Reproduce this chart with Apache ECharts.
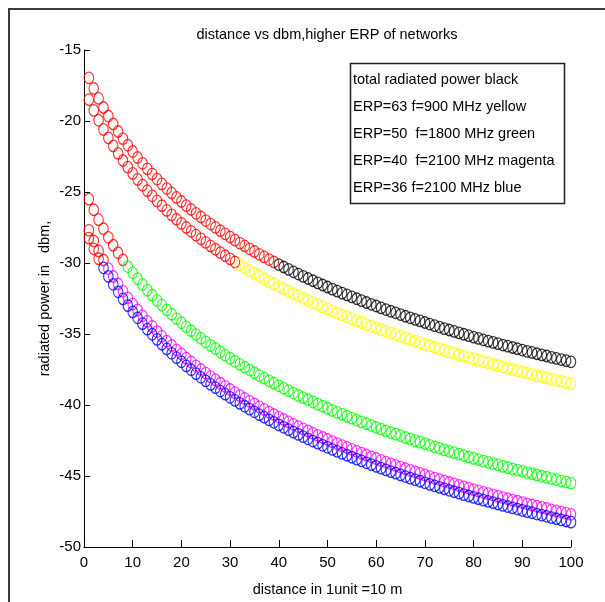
<!DOCTYPE html>
<html>
<head>
<meta charset="utf-8">
<script src="https://cdn.jsdelivr.net/npm/echarts@6/dist/echarts.min.js"></script>
<style>
  html, body { margin: 0; padding: 0; background: #fff; }
  #chart { width: 605px; height: 602px; }
</style>
</head>
<body>
<div id="chart"></div>
<script>
// distance in units of 10 m
const distance = [1,2,3,4,5,6,7,8,9,10,11,12,13,14,15,16,17,18,19,20,21,22,23,24,25,26,27,28,29,30,31,32,33,34,35,36,37,38,39,40,41,42,43,44,45,46,47,48,49,50,51,52,53,54,55,56,57,58,59,60,61,62,63,64,65,66,67,68,69,70,71,72,73,74,75,76,77,78,79,80,81,82,83,84,85,86,87,88,89,90,91,92,93,94,95,96,97,98,99,100];

// received power (dBm) per network, and their total
const totalPower = [-16.96,-17.71,-18.41,-19.05,-19.65,-20.21,-20.74,-21.24,-21.71,-22.15,-22.57,-22.98,-23.37,-23.73,-24.09,-24.43,-24.76,-25.07,-25.38,-25.67,-25.96,-26.23,-26.50,-26.76,-27.01,-27.26,-27.49,-27.73,-27.95,-28.17,-28.39,-28.60,-28.80,-29.00,-29.19,-29.39,-29.57,-29.76,-29.93,-30.11,-30.28,-30.45,-30.62,-30.78,-30.94,-31.09,-31.25,-31.40,-31.55,-31.69,-31.84,-31.98,-32.12,-32.25,-32.39,-32.52,-32.65,-32.78,-32.91,-33.03,-33.16,-33.28,-33.40,-33.51,-33.63,-33.75,-33.86,-33.97,-34.08,-34.19,-34.30,-34.41,-34.51,-34.62,-34.72,-34.82,-34.92,-35.02,-35.12,-35.22,-35.31,-35.41,-35.50,-35.59,-35.68,-35.78,-35.86,-35.95,-36.04,-36.13,-36.22,-36.30,-36.39,-36.47,-36.55,-36.64,-36.72,-36.80,-36.88,-36.96];
const erp63f900 = [-18.50,-19.25,-19.95,-20.59,-21.19,-21.75,-22.28,-22.78,-23.25,-23.69,-24.11,-24.52,-24.91,-25.27,-25.63,-25.97,-26.30,-26.61,-26.92,-27.21,-27.50,-27.77,-28.04,-28.30,-28.55,-28.80,-29.03,-29.27,-29.49,-29.71,-29.93,-30.14,-30.34,-30.54,-30.73,-30.93,-31.11,-31.30,-31.47,-31.65,-31.82,-31.99,-32.16,-32.32,-32.48,-32.63,-32.79,-32.94,-33.09,-33.23,-33.38,-33.52,-33.66,-33.79,-33.93,-34.06,-34.19,-34.32,-34.45,-34.57,-34.70,-34.82,-34.94,-35.05,-35.17,-35.29,-35.40,-35.51,-35.62,-35.73,-35.84,-35.95,-36.05,-36.16,-36.26,-36.36,-36.46,-36.56,-36.66,-36.76,-36.85,-36.95,-37.04,-37.13,-37.22,-37.32,-37.40,-37.50,-37.58,-37.67,-37.76,-37.84,-37.93,-38.01,-38.09,-38.18,-38.26,-38.34,-38.42,-38.50];
const erp50f1800 = [-25.50,-26.25,-26.95,-27.59,-28.19,-28.75,-29.28,-29.78,-30.25,-30.69,-31.11,-31.52,-31.91,-32.27,-32.63,-32.97,-33.30,-33.61,-33.92,-34.21,-34.50,-34.77,-35.04,-35.30,-35.55,-35.80,-36.03,-36.27,-36.49,-36.71,-36.93,-37.14,-37.34,-37.54,-37.73,-37.93,-38.11,-38.30,-38.47,-38.65,-38.82,-38.99,-39.16,-39.32,-39.48,-39.63,-39.79,-39.94,-40.09,-40.23,-40.38,-40.52,-40.66,-40.79,-40.93,-41.06,-41.19,-41.32,-41.45,-41.57,-41.70,-41.82,-41.94,-42.05,-42.17,-42.29,-42.40,-42.51,-42.62,-42.73,-42.84,-42.95,-43.05,-43.16,-43.26,-43.36,-43.46,-43.56,-43.66,-43.76,-43.85,-43.95,-44.04,-44.13,-44.22,-44.32,-44.40,-44.50,-44.58,-44.67,-44.76,-44.84,-44.93,-45.01,-45.09,-45.18,-45.26,-45.34,-45.42,-45.50];
const erp40f2100 = [-27.70,-28.45,-29.15,-29.79,-30.39,-30.95,-31.48,-31.98,-32.45,-32.89,-33.31,-33.72,-34.11,-34.47,-34.83,-35.17,-35.50,-35.81,-36.12,-36.41,-36.70,-36.97,-37.24,-37.50,-37.75,-38.00,-38.23,-38.47,-38.69,-38.91,-39.13,-39.34,-39.54,-39.74,-39.93,-40.13,-40.31,-40.50,-40.67,-40.85,-41.02,-41.19,-41.36,-41.52,-41.68,-41.83,-41.99,-42.14,-42.29,-42.43,-42.58,-42.72,-42.86,-42.99,-43.13,-43.26,-43.39,-43.52,-43.65,-43.77,-43.90,-44.02,-44.14,-44.25,-44.37,-44.49,-44.60,-44.71,-44.82,-44.93,-45.04,-45.15,-45.25,-45.36,-45.46,-45.56,-45.66,-45.76,-45.86,-45.96,-46.05,-46.15,-46.24,-46.33,-46.42,-46.52,-46.60,-46.70,-46.78,-46.87,-46.96,-47.04,-47.13,-47.21,-47.29,-47.38,-47.46,-47.54,-47.62,-47.70];
const erp36f2100 = [-28.25,-29.00,-29.70,-30.34,-30.94,-31.50,-32.03,-32.53,-33.00,-33.44,-33.86,-34.27,-34.66,-35.02,-35.38,-35.72,-36.05,-36.36,-36.67,-36.96,-37.25,-37.52,-37.79,-38.05,-38.30,-38.55,-38.78,-39.02,-39.24,-39.46,-39.68,-39.89,-40.09,-40.29,-40.48,-40.68,-40.86,-41.05,-41.22,-41.40,-41.57,-41.74,-41.91,-42.07,-42.23,-42.38,-42.54,-42.69,-42.84,-42.98,-43.13,-43.27,-43.41,-43.54,-43.68,-43.81,-43.94,-44.07,-44.20,-44.32,-44.45,-44.57,-44.69,-44.80,-44.92,-45.04,-45.15,-45.26,-45.37,-45.48,-45.59,-45.70,-45.80,-45.91,-46.01,-46.11,-46.21,-46.31,-46.41,-46.51,-46.60,-46.70,-46.79,-46.88,-46.97,-47.07,-47.15,-47.25,-47.33,-47.42,-47.51,-47.59,-47.68,-47.76,-47.84,-47.93,-48.01,-48.09,-48.17,-48.25];

const legendLines = [
  'total radiated power black',
  'ERP=63 f=900 MHz yellow',
  'ERP=50  f=1800 MHz green',
  'ERP=40  f=2100 MHz magenta',
  'ERP=36 f=2100 MHz blue'
];

// readings stronger than this are marked in red
const threshold = -30;

const FONT = '"Liberation Sans", Arial, Helvetica, sans-serif';
const FS = 14.5;

function curve(values, colour) {
  return {
    type: 'scatter',
    symbol: 'circle',
    symbolSize: [9.5, 11.5],
    silent: true,
    data: distance.map((d, i) => ({
      value: [d, values[i]],
      itemStyle: { borderColor: values[i] > threshold ? '#ff0000' : colour }
    })),
    itemStyle: { color: 'rgba(0,0,0,0)', borderWidth: 1.2 }
  };
}

const chart = echarts.init(document.getElementById('chart'), null, { renderer: 'canvas' });
chart.setOption({
  animation: false,
  backgroundColor: '#fff',
  textStyle: { fontFamily: FONT },
  title: {
    text: 'distance vs dbm,higher ERP of networks',
    left: 322,
    textAlign: 'center',
    top: 22,
    textStyle: { fontFamily: FONT, fontSize: FS, fontWeight: 'normal', color: '#000' }
  },
  grid: { left: 84, right: 34, top: 50, bottom: 54, containLabel: false },
  xAxis: {
    type: 'value',
    min: 0, max: 100, interval: 10,
    name: 'distance in 1unit =10 m',
    nameLocation: 'middle',
    nameGap: 35,
    nameMoveOverlap: false,
    nameTextStyle: { fontFamily: FONT, fontSize: FS, color: '#000' },
    axisLine: { show: true, onZero: false, lineStyle: { color: '#000', width: 1 } },
    axisTick: { show: true, inside: true, length: 7, lineStyle: { color: '#000' } },
    axisLabel: { fontFamily: FONT, fontSize: 15, color: '#000', margin: 8 },
    splitLine: { show: false }
  },
  yAxis: {
    type: 'value',
    min: -50, max: -15, interval: 5,
    name: 'radiated power in   dbm,',
    nameLocation: 'middle',
    nameRotate: 90,
    nameGap: 32,
    nameMoveOverlap: false,
    nameTextStyle: { fontFamily: FONT, fontSize: FS, color: '#000' },
    axisLine: { show: true, onZero: false, lineStyle: { color: '#000', width: 1 } },
    axisTick: { show: true, inside: true, length: 6, lineStyle: { color: '#000' } },
    axisLabel: { fontFamily: FONT, fontSize: 15, color: '#000', margin: 3 },
    splitLine: { show: false }
  },
  series: [
    curve(totalPower, '#000000'),
    curve(erp63f900, '#ffff00'),
    curve(erp50f1800, '#00ff00'),
    curve(erp40f2100, '#ff00ff'),
    curve(erp36f2100, '#0000ff')
  ],
  graphic: [
    // figure frame
    { type: 'line', shape: { x1: 8, y1: 9, x2: 605, y2: 9 }, style: { stroke: '#3c3c3c', lineWidth: 2 } },
    { type: 'line', shape: { x1: 9, y1: 8, x2: 9, y2: 602 }, style: { stroke: '#3c3c3c', lineWidth: 2 } },
    // annotation box
    { type: 'rect', shape: { x: 350.5, y: 63.5, width: 214, height: 140 },
      style: { fill: '#fff', stroke: '#222', lineWidth: 1.5 }, z: 10 },
    { type: 'text', x: 353, y: 66.5, z: 11,
      style: { text: legendLines.join('\n'), font: FS + 'px ' + FONT, lineHeight: 27, fill: '#000', verticalAlign: 'top' } }
  ]
});
</script>
</body>
</html>
